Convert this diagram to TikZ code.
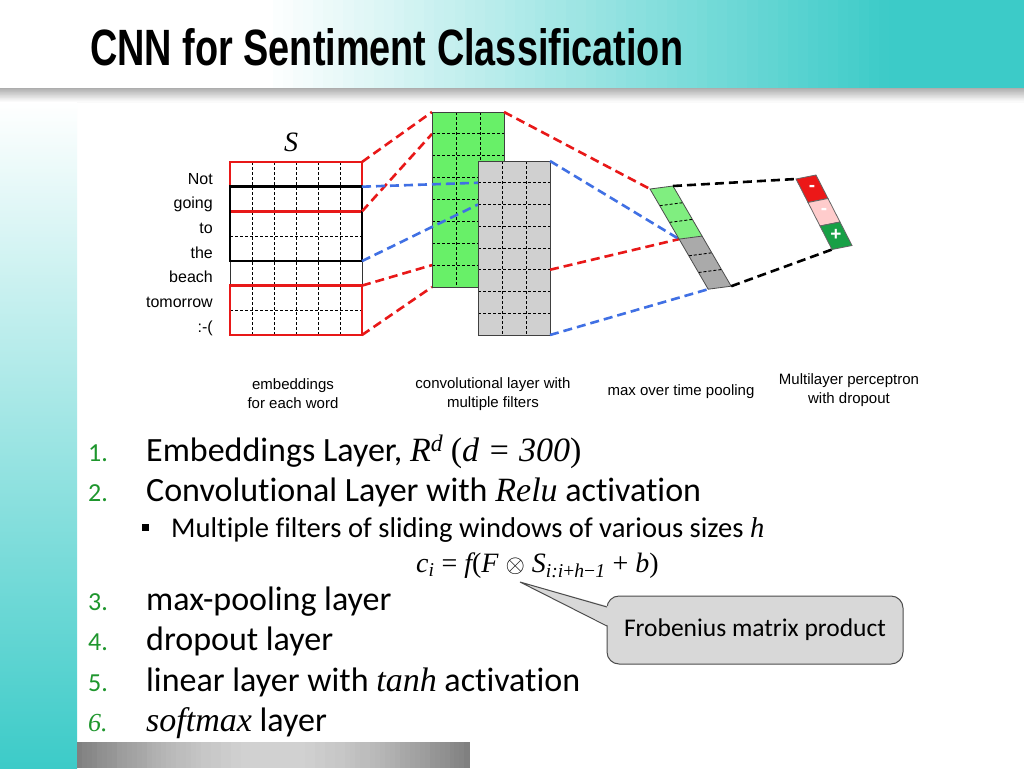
\documentclass[tikz,border=0pt]{standalone}
\usepackage{fontspec}
\setmainfont{Carlito}[Ligatures=NoCommon]
\newfontfamily\arialfont{Liberation Sans}
\newfontfamily\timesfont{Liberation Serif}
\usetikzlibrary{positioning}
\definecolor{bandteal}{RGB}{60,203,200}
\definecolor{numgreen}{RGB}{30,150,45}
\definecolor{linered}{RGB}{232,24,24}
\definecolor{lineblue}{RGB}{64,112,228}
\definecolor{filtgreen}{RGB}{104,240,104}
\definecolor{filtgray}{RGB}{208,208,208}
\definecolor{poolgreen}{RGB}{128,238,128}
\definecolor{poolgray}{RGB}{170,170,170}
\definecolor{outred}{RGB}{236,24,24}
\definecolor{outpink}{RGB}{255,204,204}
\definecolor{outgreen}{RGB}{24,160,70}
\definecolor{callgray}{RGB}{216,216,216}
\newcommand{\tm}[1]{{\timesfont\itshape #1}}

\begin{document}
\begin{tikzpicture}[x=1pt,y=-1pt,
  griddash/.style={black, line width=0.9pt, dash pattern=on 3pt off 2pt},
  redlink/.style={linered, line width=2.6pt, dash pattern=on 9pt off 5pt},
  bluelink/.style={lineblue, line width=2.6pt, dash pattern=on 9pt off 5pt},
  blacklink/.style={black, line width=2.6pt, dash pattern=on 9pt off 5pt},
  word/.style={font=\arialfont\fontsize{16}{16}\selectfont, anchor=base east, inner sep=0pt},
  caption/.style={font=\arialfont\fontsize{15}{19}\selectfont, align=center, inner sep=0pt},
  item/.style={font=\fontsize{34}{34}\selectfont, anchor=base west, inner sep=0pt},
  num/.style={font=\fontsize{26}{26}\selectfont, text=numgreen, anchor=base west, inner sep=0pt},
  sign/.style={font=\arialfont\bfseries\fontsize{19}{19}\selectfont, text=white, inner sep=0pt}
]
\useasboundingbox (0,0) rectangle (1024,768);
\fill[white] (0,0) rectangle (1024,768);

% title bar
\foreach \i in {0,...,13} {
  \pgfmathtruncatemacro\pct{32-2.3*\i}
  \fill[black!\pct] (0,88+\i) rectangle (1024,89.6+\i);
}
\foreach \i in {0,...,101} {
  \pgfmathtruncatemacro\pct{max(0,min(100,(\i*10.1-260)/6.2))}
  \fill[bandteal!\pct] (\i*10.1,0) rectangle (\i*10.1+10.8,88);
}
\node[anchor=base west, inner sep=0pt] (title) at (90,65)
  {\resizebox{593pt}{37pt}{\arialfont\bfseries CNN for Sentiment Classification}};

% side band and bottom bar
\shade[top color=white, middle color=bandteal!45, bottom color=bandteal] (0,102) rectangle (77,768);
\foreach \i in {0,...,78} {
  \pgfmathtruncatemacro\pct{50-32*sin(180*\i/78)}
  \fill[black!\pct] (77+\i*4.967,742) rectangle (77+\i*4.967+5.6,768);
}

% sentence matrix
\node[font=\timesfont\itshape\fontsize{28}{28}\selectfont, inner sep=0pt] (slabel) at (291,142) {S};
\foreach \w [count=\i] in {Not,going,to,the,beach,tomorrow,:-(}
  \node[word] (w\i) at (213,184+24.7*\i-24.7) {\w};
\fill[white] (230,162) rectangle (362,335);
\foreach \i in {1,...,5}
  \draw[griddash] (230+22*\i,162) -- (230+22*\i,335);
\foreach \j in {1,...,6}
  \draw[griddash] (230,162+24.714*\j) -- (362,162+24.714*\j);
\draw[black!80, line width=0.8pt] (230,162) rectangle (362,335);
\draw[linered, line width=2.6pt] (230,162) rectangle (362,211.4);
\draw[linered, line width=2.6pt] (230,285.6) rectangle (362,335);
\draw[black, line width=2.6pt] (230,186.7) rectangle (362,261.1);
\coordinate (e0) at (362,162);
\coordinate (e1) at (362,186.7);
\coordinate (e2) at (362,211.4);
\coordinate (e4) at (362,261.1);
\coordinate (e5) at (362,285.6);
\coordinate (e7) at (362,335);

% first filter
\coordinate (g0) at (432,112);
\coordinate (g1) at (432,133.9);
\coordinate (g7) at (432,265.1);
\coordinate (g8) at (432,287);
\coordinate (gr) at (504,112);
\draw[redlink] (e0) -- (g0);
\draw[redlink] (e2) -- (g1);
\draw[redlink] (e5) -- (g7);
\draw[redlink] (e7) -- (g8);
\fill[filtgreen] (432,112) rectangle (504,287);
\foreach \i in {1,2}
  \draw[griddash] (432+24*\i,112) -- (432+24*\i,287);
\foreach \j in {1,...,7}
  \draw[griddash] (432,112+21.875*\j) -- (504,112+21.875*\j);
\draw[black!75, line width=0.8pt] (432,112) rectangle (504,287);

% second filter
\coordinate (h1) at (478,182.75);
\coordinate (h2) at (478,204.5);
\coordinate (k0) at (550,161);
\coordinate (k5) at (550,269.75);
\coordinate (k8) at (550,335);
\draw[bluelink] (e1) -- (h1);
\draw[bluelink] (e4) -- (h2);
\fill[filtgray] (478,161) rectangle (550,335);
\foreach \i in {1,2}
  \draw[griddash] (478+24*\i,161) -- (478+24*\i,335);
\foreach \j in {1,...,7}
  \draw[griddash] (478,161+21.75*\j) -- (550,161+21.75*\j);
\draw[black!75, line width=0.8pt] (478,161) rectangle (550,335);

% pooled vector
\foreach \k in {0,...,6} {
  \coordinate (p\k) at (650+9.7*\k,189+16.7*\k);
  \coordinate (q\k) at (673+9.7*\k,186+16.7*\k);
}
\draw[redlink] (gr) -- (p0);
\draw[redlink] (k5) -- (p3);
\draw[bluelink] (k0) -- (p3);
\draw[bluelink] (k8) -- (p6);
\fill[poolgreen] (p0) -- (q0) -- (q3) -- (p3) -- cycle;
\fill[poolgray] (p3) -- (q3) -- (q6) -- (p6) -- cycle;
\foreach \k in {1,2,4,5}
  \draw[griddash] (p\k) -- (q\k);
\draw[black!70, line width=0.8pt] (p0) -- (q0) -- (q6) -- (p6) -- cycle;
\draw[black!70, line width=0.8pt] (p3) -- (q3);

% output layer
\foreach \k in {0,...,3} {
  \coordinate (o\k) at (796+12*\k,179+23.5*\k);
  \coordinate (r\k) at (816+12*\k,175+23.5*\k);
}
\draw[blacklink] (q0) -- (o0);
\draw[blacklink] (q6) -- (o3);
\draw[black!60, line width=0.8pt, fill=outred] (o0) -- (r0) -- (r1) -- (o1) -- cycle;
\draw[black!60, line width=0.8pt, fill=outpink] (o1) -- (r1) -- (r2) -- (o2) -- cycle;
\draw[black!60, line width=0.8pt, fill=outgreen] (o2) -- (r2) -- (r3) -- (o3) -- cycle;
\node[sign] (neg) at (812,188) {-};
\node[sign] (neu) at (824,211) {-};
\node[sign] (pos) at (836,235) {+};

% captions
\node[caption] (capemb) at (293,394) {embeddings\\for each word};
\node[caption] (capconv) at (493,394) {convolutional layer with\\multiple filters};
\node[caption] (cappool) at (681,392) {max over time pooling};
\node[caption] (capmlp) at (849,390) {Multilayer perceptron\\with dropout};

% list
\node[num] (n1) at (88,461) {1.};
\node[item] (t1) at (146,461) {Embeddings Layer, \tm{R}\textsuperscript{\tm{d}} {\timesfont(}\tm{d = 300}{\timesfont)}};
\node[num] (n2) at (88,501) {2.};
\node[item] (t2) at (146,501) {Convolutional Layer with \tm{Relu} activation};
\node[fill=black, inner sep=0pt, minimum size=7pt] (sq) at (145,527) {};
\node[item, font=\fontsize{28.6}{28.6}\selectfont] (t2a) at (171,537) {Multiple filters of sliding windows of various sizes \tm{h}};
\node[anchor=base west, inner sep=0pt, font=\timesfont\itshape\fontsize{28}{28}\selectfont] (eq) at (416,572)
  {c\textsubscript{i} {\upshape =} f{\upshape (}F $\otimes$ S\textsubscript{i:i{\upshape +}h{\upshape −}1} {\upshape +} b{\upshape )}};
\node[num] (n3) at (88,610) {3.};
\node[item] (t3) at (146,610) {max-pooling layer};
\node[num] (n4) at (88,650) {4.};
\node[item] (t4) at (146,650) {dropout layer};
\node[num] (n5) at (88,691) {5.};
\node[item] (t5) at (146,691) {linear layer with \tm{tanh} activation};
\node[num, font=\timesfont\itshape\fontsize{26}{26}\selectfont] (n6) at (88,731) {6.};
\node[item] (t6) at (146,731) {\tm{softmax} layer};

% callout
\node[draw=black!70, line width=1pt, fill=callgray, rounded corners=12pt, minimum width=296pt,
  minimum height=68pt, font=\fontsize{25.5}{25.5}\selectfont] (frob) at (755,630) {Frobenius matrix product};
\coordinate (tip) at (520,582);
\coordinate (pa) at (607,607);
\coordinate (pb) at (607,626);
\coordinate (pa2) at (611,607);
\coordinate (pb2) at (611,627);
\fill[callgray] (pa2) -- (tip) -- (pb2) -- cycle;
\draw[black!70, line width=1pt] (pa) -- (tip) -- (pb);
\end{tikzpicture}
\end{document}
